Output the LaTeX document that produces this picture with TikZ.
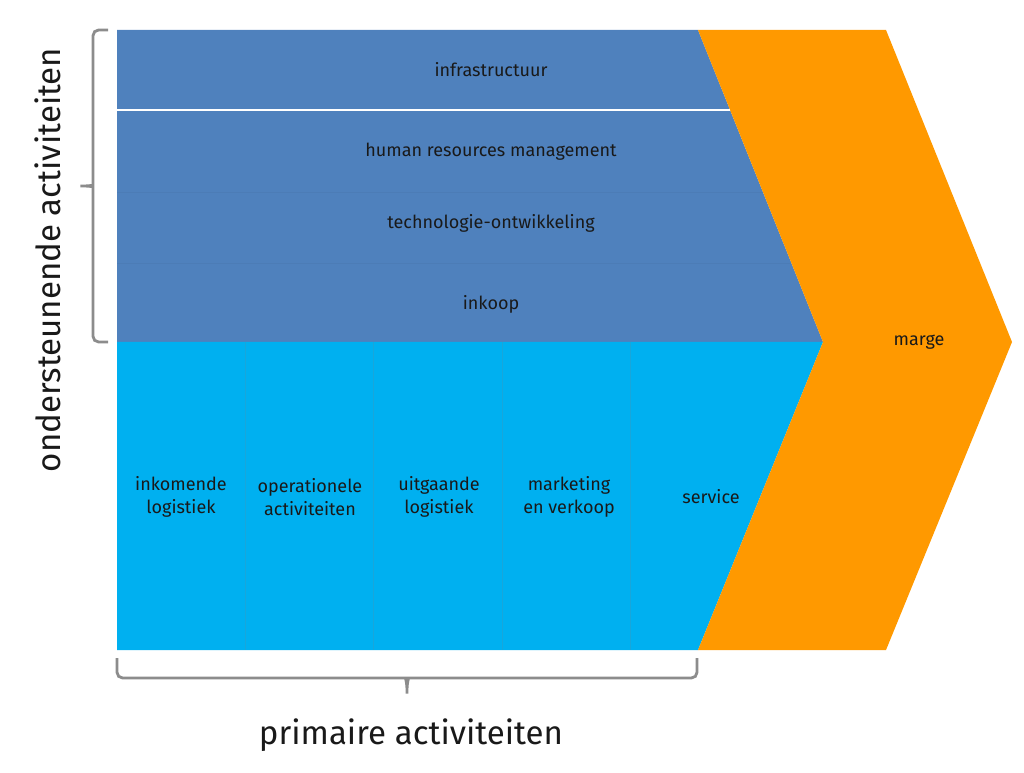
\documentclass[tikz,border=0pt]{standalone}
\usepackage{fontspec}
\setmainfont{Fira Sans}
\usepackage{xcolor}
\usepackage{tikz}
\usetikzlibrary{calc,positioning}
\definecolor{supportblue}{HTML}{4F81BD}
\definecolor{primarycyan}{HTML}{00B0F0}
\definecolor{margeorange}{HTML}{FF9900}
\definecolor{bracegray}{HTML}{8C8C8C}
\begin{document}
\begin{tikzpicture}
[x=0.025cm,y=-0.025cm,every node/.style={inner sep=1pt,align=center,
	text=black!90,font=\fontsize{12.8}{15.8}\selectfont},
bigtext/.style={font=\fontsize{23.5}{27}\selectfont},
bracket/.style={draw=bracegray,line width=2pt,rounded corners=4pt}]
\useasboundingbox (0,0) rectangle (1024,773);
% vlakken
\fill[supportblue] (117,30) -- (698,30) -- (823,342) -- (117,342) -- cycle;
\fill[primarycyan] (117,342) -- (823,342) -- (698,650) -- (117,650) -- cycle;
\fill[margeorange] (698,30) -- (886,30) -- (1012,342) -- (886,650) -- (698,650) -- (823,342) -- cycle;
% scheidingslijnen
\draw[white,line width=0.8pt] (117,110) -- (730,110);
\draw[supportblue!96!black,line width=0.5pt] (117,192) -- (762.9,192) (117,263) -- (791.3,263);
\foreach \xc in {245,373,502,630}
{
	\draw[primarycyan!80!gray,line width=0.5pt] (\xc,342) -- (\xc,650);
}
% teksten
\node (infra) at (491,70) {infrastructuur};
\node (hrm) at (491,152) {human resources management};
\node (tech) at (491,223) {technologie-ontwikkeling};
\node (inkoop) at (491,304) {inkoop};
\node (marge) at (919,342) {marge};
\foreach \nm/\xc/\txt in {inlog/181/{inkomende\\logistiek},ops/310/{operationele\\activiteiten},
	uitlog/439/{uitgaande\\logistiek},mkt/569/{marketing\\en verkoop},srv/711/{service}}
{
	\node (\nm) at (\xc,497) {\txt};
}
\node[bigtext] (primair) at (411,735) {primaire activiteiten};
\node[bigtext,rotate=90] (ondersteunend) at (48,260) {ondersteunende activiteiten};
% accolades
\draw[bracket] (108,30) -- (93,30) -- (93,180) .. controls (93,185) and (90,186) .. (77,186)
	.. controls (90,186) and (93,187) .. (93,192) -- (93,342) -- (108,342);
\draw[bracket] (117,658) -- (117,678) -- (400,678) .. controls (405,678) and (407,681) .. (407,697)
	.. controls (407,681) and (409,678) .. (414,678) -- (697,678) -- (697,658);
\end{tikzpicture}
\end{document}
